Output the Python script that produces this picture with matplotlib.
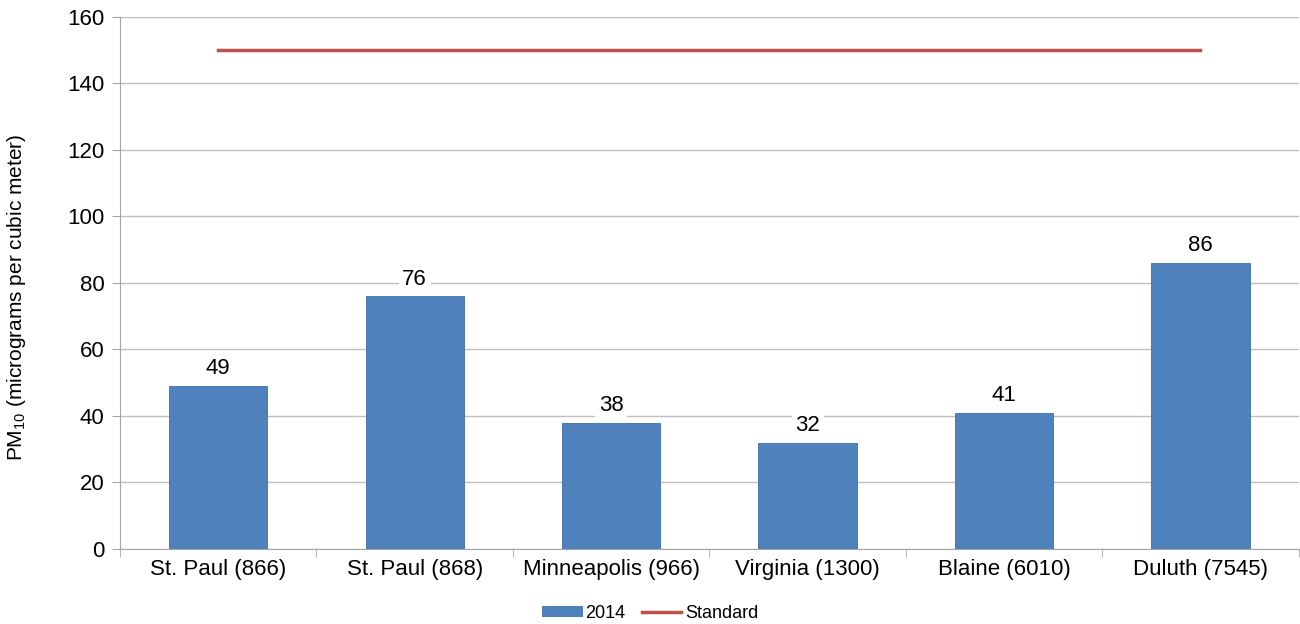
import numpy as np
import matplotlib
matplotlib.use("Agg")
import matplotlib.pyplot as plt
from matplotlib.ticker import FixedLocator

plt.rcParams['font.family'] = ['Liberation Sans', 'DejaVu Sans']
plt.rcParams['mathtext.fontset'] = 'custom'
plt.rcParams['mathtext.rm'] = 'Liberation Sans'
plt.rcParams['mathtext.it'] = 'Liberation Sans:italic'

# ── data
sites = ["St. Paul (866)", "St. Paul (868)", "Minneapolis (966)",
         "Virginia (1300)", "Blaine (6010)", "Duluth (7545)"]
pm10_2014 = [49, 76, 38, 32, 41, 86]
standard = [150, 150, 150, 150, 150, 150]
yticks = [0, 20, 40, 60, 80, 100, 120, 140, 160]

bar_color = "#4F81BD"
line_color = "#C0504D"
grid_color = "#BFBFBF"
axis_color = "#A6A6A6"

fig = plt.figure(figsize=(13, 6.24), dpi=100)
ax = fig.add_axes([0.0923, 0.1202, 0.9077 - 0.001, 0.8526])

x = np.arange(len(sites))
bars = ax.bar(x, pm10_2014, width=0.5, color=bar_color, edgecolor="#3F6FA8",
              linewidth=0.6, zorder=3, label="2014")
line, = ax.plot(x, standard, color=line_color, linewidth=2.5, zorder=4, label="Standard")

for xi, v in zip(x, pm10_2014):
    ax.text(xi, v + 2.0, str(v), ha="center", va="bottom", fontsize=16,
            color="black", zorder=5,
            bbox=dict(facecolor="white", edgecolor="none", pad=2.5))

ax.set_xlim(-0.5, len(sites) - 0.5)
ax.set_ylim(0, 160)
ax.set_yticks(yticks)
ax.yaxis.grid(True, color=grid_color, linewidth=1, zorder=0)
ax.set_axisbelow(True)

ax.set_xticks(x)
ax.set_xticklabels(sites, fontsize=16)
ax.tick_params(axis="x", which="major", length=0, pad=7)
ax.xaxis.set_minor_locator(FixedLocator(np.arange(-0.5, len(sites), 1.0)))
ax.tick_params(axis="x", which="minor", length=6, color=axis_color)
ax.tick_params(axis="y", labelsize=16, length=6, color=axis_color, pad=5)

for s in ["top", "right"]:
    ax.spines[s].set_visible(False)
ax.spines["left"].set_color(axis_color)
ax.spines["bottom"].set_color(axis_color)

ax.set_ylabel(r"PM$_{\mathrm{10}}$ (micrograms per cubic meter)", fontsize=15)
ax.yaxis.set_label_coords(-0.078, 0.474)

leg = fig.legend([bars, line], ["2014", "Standard"], loc="center",
                 bbox_to_anchor=(0.5, 1 - 613 / 624), ncol=2,
                 frameon=False, fontsize=13, handlelength=2.2, handleheight=0.5,
                 columnspacing=0.9, handletextpad=0.2)

fig.savefig("out.png", dpi=100)
